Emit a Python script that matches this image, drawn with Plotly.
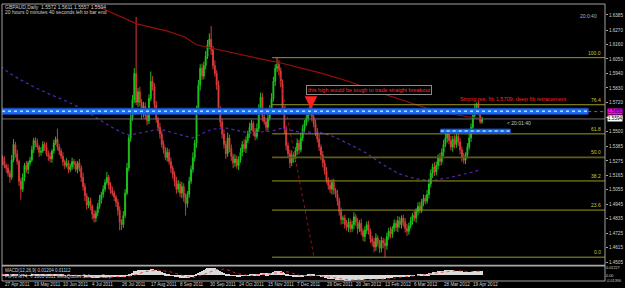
import plotly.graph_objects as go

# ---------------- data ----------------
date_labels = ["27 Apr 2011", "19 May 2011", "10 Jun 2011", "4 Jul 2011", "26 Jul 2011",
               "17 Aug 2011", "8 Sep 2011", "30 Sep 2011", "24 Oct 2011", "15 Nov 2011",
               "7 Dec 2011", "29 Dec 2011", "20 Jan 2012", "13 Feb 2012", "6 Mar 2012",
               "28 Mar 2012", "19 Apr 2012"]
date_label_bars = [0, 16, 32, 48, 64, 80, 96, 112, 128, 144, 160, 176, 192, 208, 224, 240, 256]

close = [
    1.5275, 1.5240, 1.5220, 1.5180, 1.5150, 1.5280, 1.5400, 1.5330, 1.5270, 1.5120,
    1.5060, 1.5150, 1.5240, 1.5210, 1.5260, 1.5280, 1.5360, 1.5430, 1.5410, 1.5380,
    1.5340, 1.5350, 1.5400, 1.5380, 1.5330, 1.5310, 1.5290, 1.5350, 1.5410, 1.5440,
    1.5380, 1.5350, 1.5310, 1.5270, 1.5240, 1.5260, 1.5210, 1.5230, 1.5270, 1.5250,
    1.5210, 1.5260, 1.5220, 1.5150, 1.5080, 1.5010, 1.4940, 1.4970, 1.4930, 1.4870,
    1.4840, 1.4880, 1.4930, 1.4980, 1.5020, 1.5060, 1.5110, 1.5150, 1.5090, 1.5050,
    1.5030, 1.5000, 1.4960, 1.4900, 1.4810, 1.4790, 1.4860, 1.5030, 1.5220, 1.5450,
    1.5600, 1.5740, 1.5940, 1.5720, 1.5800, 1.5720, 1.5630, 1.5690, 1.5620, 1.5580,
    1.5750, 1.5880, 1.5840, 1.5700, 1.5590, 1.5530, 1.5480, 1.5400, 1.5360, 1.5300,
    1.5340, 1.5270, 1.5220, 1.5170, 1.5120, 1.5060, 1.5100, 1.5030, 1.5080, 1.5000,
    1.4950, 1.5020, 1.5120, 1.5210, 1.5300, 1.5410, 1.5660, 1.5850, 1.5980, 1.5920,
    1.6000, 1.6070, 1.6160, 1.6200, 1.6120, 1.6000, 1.5940, 1.5850, 1.5660, 1.5570,
    1.5480, 1.5400, 1.5330, 1.5450, 1.5370, 1.5310, 1.5260, 1.5290, 1.5240, 1.5280,
    1.5340, 1.5400, 1.5370, 1.5430, 1.5480, 1.5530, 1.5560, 1.5500, 1.5460, 1.5520,
    1.5660, 1.5760, 1.5610, 1.5570, 1.5530, 1.5600, 1.5670, 1.5750, 1.5880, 1.5980,
    1.6010, 1.5960, 1.5860, 1.5660, 1.5520, 1.5390, 1.5330, 1.5260, 1.5320, 1.5290,
    1.5350, 1.5410, 1.5360, 1.5450, 1.5520, 1.5560, 1.5600, 1.5650, 1.5680, 1.5610,
    1.5560, 1.5500, 1.5440, 1.5380, 1.5320, 1.5260, 1.5200, 1.5130, 1.5090, 1.5060,
    1.5110, 1.5050, 1.5020, 1.4970, 1.4890, 1.4830, 1.4840, 1.4790, 1.4770, 1.4810,
    1.4760, 1.4790, 1.4850, 1.4810, 1.4760, 1.4800, 1.4740, 1.4700, 1.4750, 1.4790,
    1.4740, 1.4680, 1.4660, 1.4620, 1.4690, 1.4650, 1.4610, 1.4670, 1.4650, 1.4630,
    1.4700, 1.4740, 1.4720, 1.4760, 1.4800, 1.4770, 1.4820, 1.4790, 1.4840, 1.4810,
    1.4760, 1.4740, 1.4780, 1.4820, 1.4860, 1.4840, 1.4890, 1.4930, 1.4900, 1.4960,
    1.4990, 1.4970, 1.5020, 1.5100, 1.5180, 1.5230, 1.5190, 1.5240, 1.5300, 1.5270,
    1.5340, 1.5400, 1.5450, 1.5480, 1.5430, 1.5380, 1.5440, 1.5400, 1.5460, 1.5420,
    1.5360, 1.5300, 1.5280, 1.5320, 1.5380, 1.5450, 1.5530, 1.5620, 1.5680, 1.5710,
    1.5650, 1.5572, 1.5594]

open_ = [
    1.5300, 1.5275, 1.5240, 1.5220, 1.5180, 1.5150, 1.5280, 1.5400, 1.5330, 1.5270,
    1.5120, 1.5060, 1.5150, 1.5240, 1.5210, 1.5260, 1.5280, 1.5360, 1.5430, 1.5410,
    1.5380, 1.5340, 1.5350, 1.5400, 1.5380, 1.5330, 1.5310, 1.5290, 1.5350, 1.5410,
    1.5440, 1.5380, 1.5350, 1.5310, 1.5270, 1.5240, 1.5260, 1.5210, 1.5230, 1.5270,
    1.5250, 1.5210, 1.5260, 1.5220, 1.5150, 1.5080, 1.5010, 1.4940, 1.4970, 1.4930,
    1.4870, 1.4840, 1.4880, 1.4930, 1.4980, 1.5020, 1.5060, 1.5110, 1.5150, 1.5090,
    1.5050, 1.5030, 1.5000, 1.4960, 1.4900, 1.4810, 1.4790, 1.4860, 1.5030, 1.5220,
    1.5450, 1.5600, 1.5740, 1.5940, 1.5720, 1.5800, 1.5720, 1.5630, 1.5690, 1.5620,
    1.5580, 1.5750, 1.5880, 1.5840, 1.5700, 1.5590, 1.5530, 1.5480, 1.5400, 1.5360,
    1.5300, 1.5340, 1.5270, 1.5220, 1.5170, 1.5120, 1.5060, 1.5100, 1.5030, 1.5080,
    1.5000, 1.4950, 1.5020, 1.5120, 1.5210, 1.5300, 1.5410, 1.5660, 1.5850, 1.5980,
    1.5920, 1.6000, 1.6070, 1.6160, 1.6200, 1.6120, 1.6000, 1.5940, 1.5850, 1.5660,
    1.5570, 1.5480, 1.5400, 1.5330, 1.5450, 1.5370, 1.5310, 1.5260, 1.5290, 1.5240,
    1.5280, 1.5340, 1.5400, 1.5370, 1.5430, 1.5480, 1.5530, 1.5560, 1.5500, 1.5460,
    1.5520, 1.5660, 1.5760, 1.5610, 1.5570, 1.5530, 1.5600, 1.5670, 1.5750, 1.5880,
    1.5980, 1.6010, 1.5960, 1.5860, 1.5660, 1.5520, 1.5390, 1.5330, 1.5260, 1.5320,
    1.5290, 1.5350, 1.5410, 1.5360, 1.5450, 1.5520, 1.5560, 1.5600, 1.5650, 1.5680,
    1.5610, 1.5560, 1.5500, 1.5440, 1.5380, 1.5320, 1.5260, 1.5200, 1.5130, 1.5090,
    1.5060, 1.5110, 1.5050, 1.5020, 1.4970, 1.4890, 1.4830, 1.4840, 1.4790, 1.4770,
    1.4810, 1.4760, 1.4790, 1.4850, 1.4810, 1.4760, 1.4800, 1.4740, 1.4700, 1.4750,
    1.4790, 1.4740, 1.4680, 1.4660, 1.4620, 1.4690, 1.4650, 1.4610, 1.4670, 1.4650,
    1.4630, 1.4700, 1.4740, 1.4720, 1.4760, 1.4800, 1.4770, 1.4820, 1.4790, 1.4840,
    1.4810, 1.4760, 1.4740, 1.4780, 1.4820, 1.4860, 1.4840, 1.4890, 1.4930, 1.4900,
    1.4960, 1.4990, 1.4970, 1.5020, 1.5100, 1.5180, 1.5230, 1.5190, 1.5240, 1.5300,
    1.5270, 1.5340, 1.5400, 1.5450, 1.5480, 1.5430, 1.5380, 1.5440, 1.5400, 1.5460,
    1.5420, 1.5360, 1.5300, 1.5280, 1.5320, 1.5380, 1.5450, 1.5530, 1.5620, 1.5680,
    1.5710, 1.5650, 1.5572]

upper_wick_pips = [
    20, 35, 15, 30, 25, 40, 40, 20, 30, 15,
    25, 30, 20, 35, 15, 25, 30, 20, 25, 35,
    15, 30, 25, 20, 35, 25, 30, 15, 25, 20,
    80, 25, 20, 30, 15, 35, 20, 25, 30, 20,
    25, 15, 30, 20, 35, 25, 20, 30, 25, 15,
    30, 20, 25, 35, 20, 30, 25, 40, 20, 25,
    30, 20, 15, 25, 30, 20, 35, 30, 40, 25,
    30, 35, 40, 430, 30, 40, 25, 35, 30, 20,
    30, 75, 40, 25, 30, 20, 35, 25, 30, 20,
    35, 25, 30, 20, 25, 35, 30, 20, 35, 25,
    30, 25, 35, 30, 40, 25, 35, 40, 30, 35,
    30, 40, 35, 45, 100, 30, 40, 25, 35, 30,
    25, 35, 30, 40, 25, 30, 20, 35, 25, 30,
    35, 25, 40, 30, 25, 35, 30, 20, 25, 40,
    45, 35, 30, 25, 20, 35, 30, 40, 35, 30,
    50, 30, 25, 35, 30, 20, 25, 30, 35, 20,
    30, 35, 25, 40, 30, 25, 35, 30, 30, 25,
    20, 30, 25, 35, 20, 30, 25, 30, 20, 35,
    25, 30, 20, 35, 25, 30, 20, 25, 35, 30,
    25, 30, 35, 20, 30, 25, 35, 20, 30, 25,
    30, 20, 25, 30, 35, 20, 25, 30, 20, 35,
    30, 25, 35, 20, 30, 25, 35, 30, 20, 25,
    30, 35, 25, 30, 20, 35, 25, 30, 35, 25,
    30, 25, 35, 40, 30, 25, 35, 30, 25, 35,
    30, 35, 40, 25, 30, 35, 25, 30, 35, 25,
    30, 25, 35, 20, 30, 35, 30, 25, 30, 8,
    25, 20, 17]

lower_wick_pips = [
    30, 20, 35, 25, 40, 20, 15, 30, 25, 35,
    80, 20, 30, 25, 35, 20, 15, 25, 30, 20,
    35, 25, 15, 30, 20, 35, 25, 30, 20, 15,
    25, 30, 20, 35, 25, 15, 30, 20, 25, 35,
    20, 30, 25, 35, 30, 40, 35, 25, 30, 40,
    35, 30, 25, 20, 30, 25, 20, 15, 30, 25,
    20, 30, 35, 40, 63, 40, 25, 20, 15, 25,
    30, 20, 25, 20, 35, 30, 40, 25, 30, 35,
    25, 20, 30, 35, 25, 30, 35, 25, 30, 20,
    30, 25, 35, 30, 40, 35, 25, 30, 40, 35,
    90, 30, 25, 20, 25, 30, 35, 25, 40, 30,
    25, 30, 20, 35, 40, 30, 25, 35, 30, 40,
    35, 30, 40, 25, 30, 35, 40, 30, 25, 35,
    20, 30, 25, 35, 20, 30, 25, 35, 30, 20,
    25, 30, 35, 20, 30, 25, 20, 30, 25, 35,
    30, 35, 25, 30, 40, 35, 30, 40, 25, 30,
    25, 30, 35, 20, 25, 30, 20, 25, 30, 35,
    30, 35, 25, 30, 40, 35, 30, 25, 35, 30,
    40, 30, 25, 35, 30, 40, 35, 30, 25, 35,
    30, 25, 35, 30, 40, 25, 30, 35, 40, 30,
    25, 30, 35, 40, 30, 25, 35, 30, 40, 87,
    30, 25, 35, 30, 25, 30, 35, 25, 30, 35,
    30, 35, 25, 20, 30, 25, 35, 30, 25, 20,
    30, 25, 20, 30, 25, 35, 30, 25, 30, 35,
    25, 30, 20, 35, 30, 25, 35, 30, 25, 30,
    35, 30, 25, 30, 25, 20, 30, 25, 20, 25,
    30, 15, 15]

# MACD(12,26,9) main histogram, in units of 0.001
macd_hist_milli = [
    2.0, 1.6, 1.2, 0.6, 0.0, 0.2, 1.0, 1.2, 1.0, 0.0,
    -1.2, -1.4, -1.0, -0.9, -0.5, -0.2, 0.4, 1.2, 1.6, 1.8,
    1.7, 1.6, 1.8, 1.8, 1.5, 1.2, 0.9, 1.0, 1.4, 1.8,
    1.8, 1.6, 1.2, 0.7, 0.2, 0.0, -0.4, -0.6, -0.5, -0.6,
    -0.9, -0.8, -1.0, -1.6, -2.4, -3.4, -4.6, -5.2, -5.8, -6.6,
    -7.4, -7.6, -7.4, -6.9, -6.2, -5.4, -4.5, -3.6, -3.3, -3.2,
    -3.2, -3.4, -3.8, -4.5, -5.6, -6.3, -6.0, -4.6, -2.4, 0.8,
    4.0, 7.2, 10.8, 12.4, 14.2, 15.0, 15.0, 15.3, 15.0, 14.4,
    15.0, 15.8, 16.0, 15.2, 13.8, 12.2, 10.4, 8.4, 6.6, 4.6,
    3.4, 1.8, 0.2, -1.4, -3.0, -4.6, -5.4, -6.6, -7.0, -7.8,
    -8.6, -8.4, -7.4, -5.8, -4.0, -1.8, 1.8, 5.6, 9.2, 11.6,
    14.0, 16.4, 18.8, 20.4, 20.8, 20.2, 19.2, 17.6, 14.8, 12.2,
    9.4, 6.8, 4.4, 3.0, 1.6, 0.2, -1.0, -1.8, -2.6, -2.8,
    -2.6, -2.0, -1.6, -0.8, 0.2, 1.2, 2.2, 2.4, 2.4, 2.8,
    4.2, 5.8, 5.8, 5.6, 5.2, 5.4, 6.0, 7.0, 8.6, 10.2,
    11.4, 11.8, 11.2, 9.2, 6.8, 4.2, 1.8, -0.8, -2.2, -3.4,
    -4.0, -4.0, -4.2, -3.6, -2.6, -1.6, -0.6, 0.4, 1.2, 1.2,
    0.8, 0.0, -1.0, -2.2, -3.6, -5.0, -6.6, -8.2, -9.6, -10.8,
    -11.2, -11.8, -12.2, -12.8, -13.6, -14.4, -14.8, -15.2, -15.4, -15.0,
    -15.0, -14.6, -13.6, -13.0, -12.8, -12.2, -12.2, -12.4, -12.0, -11.2,
    -11.0, -11.2, -11.4, -11.8, -11.2, -11.0, -11.2, -10.8, -10.4, -10.0,
    -9.2, -8.2, -7.6, -6.8, -5.8, -5.2, -4.4, -3.8, -3.0, -2.6,
    -2.6, -2.8, -2.6, -2.0, -1.2, -0.8, 0.0, 0.8, 1.2, 2.0,
    2.8, 3.2, 4.0, 5.2, 6.6, 7.8, 8.4, 9.2, 10.2, 10.6,
    11.4, 12.4, 13.4, 14.0, 13.8, 13.2, 13.0, 12.6, 12.6, 12.2,
    11.4, 10.4, 9.4, 8.8, 8.6, 8.8, 9.6, 10.6, 11.6, 12.2,
    12.2, 11.9, 12.04]

signal_bars = [0, 10, 16, 25, 32, 40, 48, 55, 62, 67, 72, 78, 85, 92, 100, 104, 110, 117,
               122, 128, 135, 141, 150, 156, 162, 168, 172, 180, 190, 200, 210, 220, 228,
               240, 248, 255, 262]
signal_milli = [1.5, 0.5, -0.5, 1.5, 1.4, -0.3, -3.5, -6.5, -4.0, -5.0, 0.0, 10.0, 14.5,
                9.0, -3.0, -6.5, 2.0, 16.0, 17.0, 5.0, -1.5, 1.5, 7.0, 9.5, 0.0, -2.0,
                -0.5, -6.0, -13.5, -12.5, -10.5, -4.0, -0.5, 8.0, 12.5, 10.3, 11.12]

# long moving average (dark red) vertices
ma_red_bars = [44, 58.6, 73.3, 89.6, 99.4, 105.9, 115.7, 129.4, 140.2, 151.1, 162, 174.6,
               189.3, 205.6, 222, 236.7, 249.2, 262]
ma_red_vals = [1.6500, 1.6408, 1.6317, 1.6264, 1.6219, 1.6158, 1.6128, 1.6083, 1.6053,
               1.6023, 1.5985, 1.5940, 1.5879, 1.5796, 1.5721, 1.5653, 1.5622, 1.5595]

# shorter moving average (purple) vertices
ma_purple_bars = [-1, 4.1, 9.5, 16.6, 25.9, 35.1, 43.8, 51.5, 58.6, 65.6, 69.4, 74.9, 85.8,
                  103.8, 114.6, 122.3, 134.8, 147.3, 152.8, 162, 172.9, 180, 189.3, 198.5,
                  207.2, 216.5, 225.8, 234.5, 243.7, 253, 261.2]
ma_purple_vals = [1.5992, 1.5940, 1.5894, 1.5841, 1.5781, 1.5728, 1.5668, 1.5600, 1.5539,
                  1.5487, 1.5471, 1.5487, 1.5517, 1.5449, 1.5517, 1.5524, 1.5487, 1.5502,
                  1.5524, 1.5494, 1.5494, 1.5464, 1.5404, 1.5336, 1.5253, 1.5177, 1.5139,
                  1.5124, 1.5147, 1.5177, 1.5207]

fib_high = 1.6060
fib_low = 1.4543
fib_high_bar = 149.5
fib_low_bar = 170.2
fib_levels = [0.0, 23.6, 38.2, 50.0, 61.8, 76.4, 100.0]

resistance_zone = (1.5630, 1.5675)
support_zone = (1.5487, 1.5517)
zone_line_price = 1.5650
bid_price = 1.5594

price_ticks = [1.6385, 1.6270, 1.6160, 1.6050, 1.5940, 1.5830, 1.5720, 1.5605, 1.5500,
               1.5385, 1.5275, 1.5165, 1.5055, 1.4945, 1.4835, 1.4725, 1.4615, 1.4505]

# ---------------- derived ----------------
n = len(close)
bars = list(range(n))
high = [round(max(o, c) + u * 1e-4, 4) for o, c, u in zip(open_, close, upper_wick_pips)]
low = [round(min(o, c) - d * 1e-4, 4) for o, c, d in zip(open_, close, lower_wick_pips)]
macd_hist = [v / 1000 for v in macd_hist_milli]
signal = [v / 1000 for v in signal_milli]

X_MIN, X_MAX = -0.3, 329.2
FONT = "Liberation Sans"
GREY = "#d0d0d0"

fig = go.Figure()

fig.add_trace(go.Candlestick(
    x=bars, open=open_, high=high, low=low, close=close,
    increasing=dict(line=dict(color="#1cc21c", width=1), fillcolor="#27dd27"),
    decreasing=dict(line=dict(color="#d83838", width=1), fillcolor="#ff5c5c"),
    whiskerwidth=0, hoverinfo="skip", xaxis="x", yaxis="y"))

fig.add_trace(go.Scatter(x=ma_red_bars, y=ma_red_vals, mode="lines",
                         line=dict(color="#9a0c0c", width=1.2), hoverinfo="skip"))
fig.add_trace(go.Scatter(x=ma_purple_bars, y=ma_purple_vals, mode="lines",
                         line=dict(color="#5526b4", width=1.2, dash="dot"), hoverinfo="skip"))
fig.add_trace(go.Scatter(x=[fib_high_bar, fib_low_bar], y=[fib_high, fib_low], mode="lines",
                         line=dict(color="#a01010", width=1, dash="dot"), hoverinfo="skip"))

# fib levels
fib_start = 147.3
for lv in fib_levels:
    p = fib_low + (fib_high - fib_low) * lv / 100.0
    fig.add_shape(type="line", xref="x", yref="y", x0=fib_start, x1=X_MAX, y0=p, y1=p,
                  line=dict(color="#5e5e12" if lv == 50.0 else "#9a9a22",
                            width=1.6 if lv == 50.0 else 1))
    fig.add_annotation(x=X_MAX - 1, y=p, xref="x", yref="y", text=f"{lv:.1f}",
                       showarrow=False, xanchor="right", yanchor="bottom",
                       font=dict(family=FONT, size=5, color="#c8c838"))

# bid line
fig.add_shape(type="line", xref="x", yref="y", x0=X_MIN, x1=X_MAX, y0=bid_price, y1=bid_price,
              line=dict(color="#6c6c6c", width=1))

# resistance / support zones (blue bands)
for (x0, x1, (y0, y1)) in [(X_MIN, 320, resistance_zone), (239.4, 277.5, support_zone)]:
    fig.add_shape(type="rect", xref="x", yref="y", x0=x0, x1=x1, y0=y0, y1=y1,
                  fillcolor="#1c6df0", line=dict(color="#1848b8", width=1), layer="above")
    mid = (y0 + y1) / 2
    fig.add_shape(type="line", xref="x", yref="y", x0=x0, x1=x1, y0=mid, y1=mid,
                  line=dict(color="#9fe4ff", width=1.6, dash="dot"), layer="above")
fig.add_shape(type="line", xref="x", yref="y", x0=320, x1=X_MAX, y0=zone_line_price,
              y1=zone_line_price, line=dict(color="#ff00ff", width=1, dash="dot"))

# MACD panel
fig.add_trace(go.Bar(x=bars, y=macd_hist, xaxis="x2", yaxis="y2", width=0.6,
                     marker=dict(color="#dadada", line=dict(width=0)), hoverinfo="skip"))
fig.add_trace(go.Scatter(x=signal_bars, y=signal, xaxis="x2", yaxis="y2", mode="lines",
                         line=dict(color="#ff2a2a", width=0.8, dash="dot"), hoverinfo="skip"))

# frame and separator
fig.add_shape(type="rect", xref="paper", yref="paper", x0=0, x1=1, y0=0, y1=1,
              line=dict(color="#a0a0a0", width=1))
fig.add_shape(type="rect", xref="paper", yref="paper", x0=0, x1=1, y0=0.052, y1=0.0591,
              fillcolor="#a8a8a8", line=dict(width=0))

# texts
fig.add_annotation(xref="paper", yref="paper", x=0.002, y=0.989, xanchor="left", yanchor="middle",
                   text="GBPAUD,Daily  1.5572 1.5611 1.5557 1.5594", showarrow=False,
                   font=dict(family=FONT, size=5, color=GREY))
fig.add_annotation(xref="paper", yref="paper", x=0.002, y=0.971, xanchor="left", yanchor="middle",
                   text="20 hours 0 minutes 40 seconds left to bar end", showarrow=False,
                   font=dict(family=FONT, size=5, color=GREY))
fig.add_annotation(xref="paper", yref="paper", x=0.955, y=0.957, xanchor="left", yanchor="middle",
                   text="20:0:40", showarrow=False, font=dict(family=FONT, size=5, color="#b0b0b0"))
fig.add_annotation(xref="paper", yref="paper", x=0.002, y=0.0394, xanchor="left", yanchor="middle",
                   text="MACD(12,26,9) 0.01204 0.01112", showarrow=False,
                   font=dict(family=FONT, size=4.5, color=GREY))
fig.add_annotation(xref="paper", yref="paper", x=0.002, y=0.0179, xanchor="left", yanchor="middle",
                   text="FxPro MT4, © 2001-2011 MetaQuotes Software Corp.", showarrow=False,
                   font=dict(family=FONT, size=4.5, color=GREY))

fig.add_annotation(x=200.2, y=1.5811, xref="x", yref="y",
                   text="this high would be tough to trade straight breakout", showarrow=False,
                   font=dict(family=FONT, size=5.5, color="#ff3030"),
                   bordercolor="#8c8c8c", borderwidth=1, borderpad=1, bgcolor="#000000")
fig.add_annotation(x=168.5, y=1.5672, xref="x", yref="y", ax=0, ay=-13, text="",
                   showarrow=True, arrowhead=2, arrowsize=1, arrowwidth=2.5, arrowcolor="#ff2020")
fig.add_annotation(x=248.6, y=1.5745, xref="x", yref="y", xanchor="left",
                   text="Strong res, fib 1.5709, deep fib retracement", showarrow=False,
                   font=dict(family=FONT, size=5.5, color="#ff2020"))
fig.add_annotation(x=274.8, y=1.5562, xref="x", yref="y", xanchor="left",
                   text="&lt; 20:01:40", showarrow=False, font=dict(family=FONT, size=5, color="#c8c8c8"))

# price labels on axis
fig.add_annotation(xref="paper", yref="y", x=1.003, y=zone_line_price, xanchor="left",
                   text="1.5650", showarrow=False, bgcolor="#ff00ff",
                   font=dict(family=FONT, size=4.6, color="#000000"), borderpad=0)
fig.add_annotation(xref="paper", yref="y", x=1.003, y=bid_price, xanchor="left",
                   text="1.5594", showarrow=False, bgcolor="#ffffff",
                   font=dict(family=FONT, size=4.6, color="#000000"), borderpad=0)

# date labels
for b, t in zip(date_label_bars, date_labels):
    fig.add_annotation(x=b, y=-0.011, xref="x2", yref="paper", xanchor="left", yanchor="middle",
                       text=t, showarrow=False, font=dict(family=FONT, size=4.6, color=GREY))

fig.update_layout(
    width=625, height=288, margin=dict(l=2, r=18, t=2, b=7),
    paper_bgcolor="#000000", plot_bgcolor="#000000", showlegend=False,
    font=dict(family=FONT, size=5, color=GREY),
    xaxis=dict(domain=[0, 1], range=[X_MIN, X_MAX], anchor="y", showticklabels=False,
               showgrid=False, zeroline=False, ticks="", rangeslider=dict(visible=False)),
    yaxis=dict(domain=[0.0609, 1], range=[1.4490, 1.6468], side="right", tickvals=price_ticks,
               ticktext=[f"{v:.4f}" for v in price_ticks], ticks="outside", ticklen=2,
               tickcolor="#a0a0a0", tickfont=dict(family=FONT, size=4.6, color=GREY),
               showgrid=False, zeroline=False),
    xaxis2=dict(domain=[0, 1], range=[X_MIN, X_MAX], anchor="y2", showticklabels=False,
                showgrid=False, zeroline=False, ticks=""),
    yaxis2=dict(domain=[0, 0.0502], range=[-0.0160, 0.0225], side="right",
                tickvals=[0.02227, 0.0, -0.0139], ticktext=["0.02227", "0.00", "-0.01390"],
                ticks="", tickfont=dict(family=FONT, size=3.8, color=GREY),
                showgrid=False, zeroline=False),
    bargap=0,
)

fig.write_html("out.html")
